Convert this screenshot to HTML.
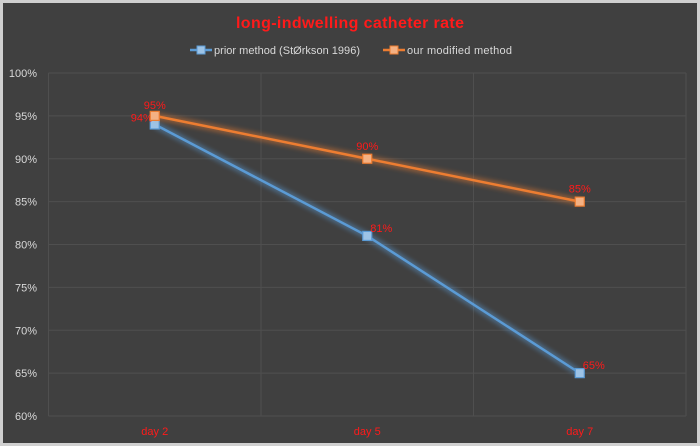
<!DOCTYPE html>
<html><head><meta charset="utf-8"><style>
body{margin:0;background:#fff;}
svg{display:block;font-family:"Liberation Sans",sans-serif;}
</style></head><body>
<svg id="c" width="700" height="446" viewBox="0 0 700 446">
<defs>
<filter id="glow" x="-10%" y="-10%" width="120%" height="120%"><feGaussianBlur stdDeviation="2.5"/></filter>
</defs>
<rect x="0" y="0" width="700" height="446" fill="#d0d0d0"/>
<rect x="3" y="3" width="694" height="440" fill="#404040"/>
<text x="350" y="28" text-anchor="middle" fill="#ff1a1a" font-size="16" font-weight="bold" textLength="228">long-indwelling catheter rate</text>
<g id="legend">
<g>
<line x1="190" y1="50" x2="212" y2="50" stroke="#5b9bd5" stroke-width="2.5"/>
<rect x="197" y="46" width="8" height="8" fill="#9dc3e6" stroke="#5b9bd5"/>
<text x="214" y="54" fill="#d9d9d9" font-size="11" textLength="146">prior method (StØrkson 1996)</text>
</g>
<g>
<line x1="383" y1="50" x2="405" y2="50" stroke="#ed7d31" stroke-width="2.5"/>
<rect x="390" y="46" width="8" height="8" fill="#f4b183" stroke="#ed7d31"/>
<text x="407" y="54" fill="#d9d9d9" font-size="11" textLength="105">our modified method</text>
</g>
</g>
<g id="grid"></g>
<g id="axes"></g>
<g id="series"></g>
</svg>
<script>
const categories = ["day 2","day 5","day 7"];
const priorValues = [94,81,65];
const modifiedValues = [95,90,85];
const yTicks = [60,65,70,75,80,85,90,95,100];

const NS="http://www.w3.org/2000/svg";
const L=48.5,R=686,T=73,B=416;
const yMin=60,yMax=100;
const band=(R-L)/categories.length;
const x=i=>L+band*(i+0.5);
const y=v=>B-(v-yMin)/(yMax-yMin)*(B-T);
function mk(tag,attrs,parent){const e=document.createElementNS(NS,tag);for(const k in attrs)e.setAttribute(k,attrs[k]);parent.appendChild(e);return e;}
const grid=document.getElementById('grid'),axes=document.getElementById('axes'),series=document.getElementById('series');
yTicks.forEach(t=>{
  const ln=mk('line',{x1:L,x2:R,y1:y(t),y2:y(t),stroke:'#4f4f4f','stroke-width':1},grid);
  
  
  const tx=mk('text',{x:37,y:y(t)+4,'text-anchor':'end',fill:'#d9d9d9','font-size':11},axes);
  tx.textContent=t+'%';
  
  
});
for(let i=0;i<=categories.length;i++){
  const ln=mk('line',{x1:L+band*i,x2:L+band*i,y1:T,y2:B,stroke:'#4f4f4f','stroke-width':1},grid);
  
  
}
categories.forEach((c,i)=>{
  const tx=mk('text',{x:x(i),y:435,'text-anchor':'middle',fill:'#ff1a1a','font-size':11},axes);
  tx.textContent=c;
  
  
});
function draw(vals,stroke,fill,name,labelDx,labelDy,anchor){
  const pts=vals.map((v,i)=>x(i)+','+y(v)).join(' ');
  const g=mk('polyline',{points:pts,fill:'none',stroke:stroke,'stroke-width':7,opacity:0.45,filter:'url(#glow)'},series);
  
  
  const pl=mk('polyline',{points:pts,fill:'none',stroke:stroke,'stroke-width':2.5},series);
  
  
  vals.forEach((v,i)=>{
    const r=mk('rect',{x:x(i)-4.5,y:y(v)-4.5,width:9,height:9,fill:fill,stroke:stroke,'stroke-width':1.2},series);
    
    
    const t=mk('text',{x:x(i)+labelDx[i],y:y(v)+labelDy[i],'text-anchor':anchor[i],fill:'#ff1a1a','font-size':11},series);
    t.textContent=v+'%';
    
    
  });
}
draw(priorValues,'#5b9bd5','#9dc3e6','prior-method',[-2,3,3],[-3,-4,-4],['end','start','start']);
draw(modifiedValues,'#ed7d31','#f4b183','modified-method',[0,0,0],[-7,-9,-9],['middle','middle','middle']);
</script>
</body></html>
